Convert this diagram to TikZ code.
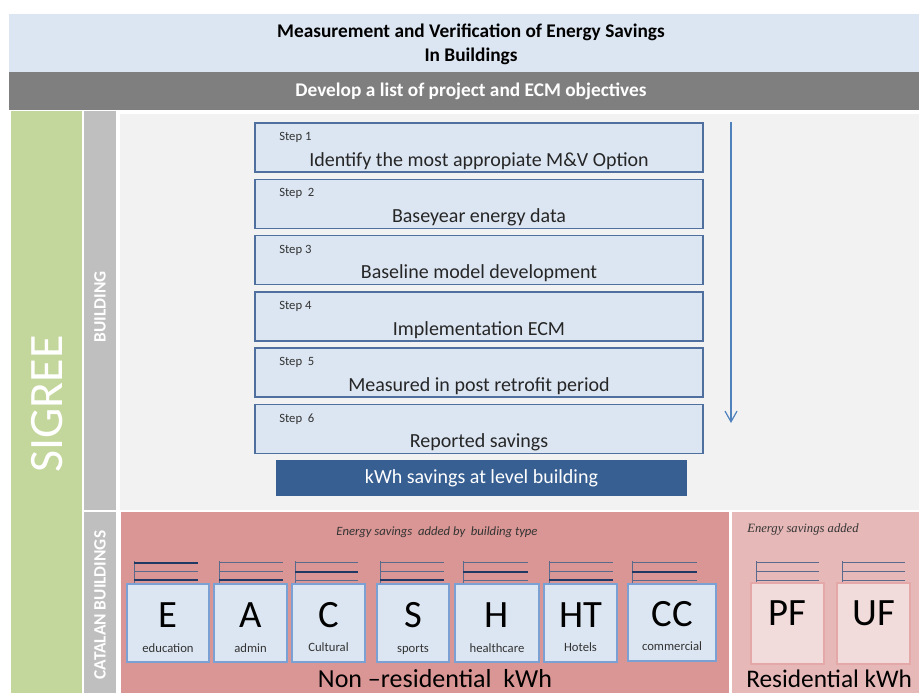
\documentclass[tikz,border=0pt]{standalone}
\usepackage{fontspec}
\setmainfont{Carlito}
\newfontfamily\serifit{Liberation Serif}
\usetikzlibrary{arrows.meta}
\definecolor{titlebg}{HTML}{DCE6F2}
\definecolor{bandgray}{HTML}{7F7F7F}
\definecolor{sigreegreen}{HTML}{C3D69B}
\definecolor{colgray}{HTML}{BFBFBF}
\definecolor{panelgray}{HTML}{F2F2F2}
\definecolor{stepborder}{HTML}{4F6F9F}
\definecolor{kwhblue}{HTML}{375F92}
\definecolor{arrowblue}{HTML}{4F81BD}
\definecolor{nonres}{HTML}{D99694}
\definecolor{resbg}{HTML}{E6B9B8}
\definecolor{typeborder}{HTML}{7BA0D4}
\definecolor{resbox}{HTML}{F2DCDB}
\definecolor{resboxborder}{HTML}{E3A8A7}
\definecolor{stripedark}{HTML}{1F3864}
\definecolor{stripelight}{HTML}{5A6A8C}
\newcommand\mystripes[5]{%
  \draw[stripelight,line width=0.6pt] (#1,561) -- (#1,584);
  \draw[#3] (#1,562.5) -- (#2,562.5);
  \draw[#4] (#1,571.5) -- (#2,571.5);
  \draw[#5] (#1,580) -- (#2,580);
}
\begin{document}
\begin{tikzpicture}[x=0.75pt,y=-0.75pt,
  area/.style={draw=none,inner sep=0pt,outer sep=0pt},
  stepbox/.style={draw=stepborder,line width=1.1pt,fill=titlebg,inner sep=0pt,
    minimum width=336pt,minimum height=36.75pt},
  steplbl/.style={anchor=base west,font=\fontsize{9.5}{11}\selectfont,text=black!80,inner sep=0pt},
  steptxt/.style={anchor=base,font=\fontsize{15}{18}\selectfont,text=black!85,inner sep=0pt},
  typebox/.style={draw=typeborder,line width=1.1pt,fill=titlebg,inner sep=0pt,minimum height=58.5pt},
  resbx/.style={draw=resboxborder,line width=1.1pt,fill=resbox,inner sep=0pt,minimum height=60.75pt},
  bigletter/.style={font=\fontsize{29}{32}\selectfont,inner sep=0pt},
  sublbl/.style={anchor=base,font=\fontsize{9.5}{11}\selectfont,text=black!80,inner sep=0pt},
  thk/.style={stripedark,line width=1.5pt},
  thn/.style={stripelight,line width=0.75pt},
  flowarrow/.style={arrowblue,line width=0.9pt,-{Straight Barb[length=8pt,width=9pt,line width=0.9pt]}}
]
\useasboundingbox[fill=white] (0,0) rectangle (919,693);

% header bands
\node[area,fill=titlebg,minimum width=682.5pt,minimum height=43.5pt] (title) at (464,43) {};
\node[area,fill=bandgray,minimum width=682.5pt,minimum height=28.5pt] (band) at (464,91) {};
\node[align=center,font=\bfseries\fontsize{14.5}{18}\selectfont,inner sep=0pt] (titletxt) at (471,44)
  {Measurement and Verification of Energy Savings\\In Buildings};
\node[font=\bfseries\fontsize{14.5}{18}\selectfont,text=white,inner sep=0pt] (bandtxt) at (471,91)
  {Develop a list of project and ECM objectives};

% left columns
\node[area,fill=sigreegreen,minimum width=53.25pt,minimum height=436.5pt] (green) at (46.5,402) {};
\node[rotate=90,text=white,font=\fontsize{36}{40}\selectfont,inner sep=0pt] (sigree) at (47,404) {SIGREE};
\node[area,fill=colgray,minimum width=24pt,minimum height=299.25pt] (colb) at (100,310.5) {};
\node[rotate=90,text=white,font=\bfseries\fontsize{13}{15}\selectfont,inner sep=0pt] (buildtxt) at (100,307) {BUILDING};
\node[area,fill=colgray,minimum width=24pt,minimum height=135.75pt] (colc) at (100,602.5) {};
\node[rotate=90,text=white,font=\bfseries\fontsize{13}{15}\selectfont,inner sep=0pt] (cattxt) at (100,605) {CATALAN BUILDINGS};

% building panel
\node[area,fill=panelgray,minimum width=599.25pt,minimum height=297pt] (panel) at (519.5,312) {};

\node[stepbox] (s1) at (479,147.5) {};
\node[stepbox] (s2) at (479,203.8) {};
\node[stepbox] (s3) at (479,260.1) {};
\node[stepbox] (s4) at (479,316.4) {};
\node[stepbox] (s5) at (479,372.7) {};
\node[stepbox] (s6) at (479,429) {};

\node[steplbl] (l1) at (279,140.5) {Step 1};
\node[steplbl] (l2) at (279,196.8) {Step\ \ 2};
\node[steplbl] (l3) at (279,253.1) {Step 3};
\node[steplbl] (l4) at (279,309.4) {Step 4};
\node[steplbl] (l5) at (279,365.7) {Step\ \ 5};
\node[steplbl] (l6) at (279,422) {Step\ \ 6};

\node[steptxt] (t1) at (479,166) {Identify the most appropiate M\&V Option};
\node[steptxt] (t2) at (479,222.5) {Baseyear energy data};
\node[steptxt] (t3) at (479,278.8) {Baseline model development};
\node[steptxt] (t4) at (479,335.1) {Implementation ECM};
\node[steptxt] (t5) at (479,391.4) {Measured in post retrofit period};
\node[steptxt] (t6) at (479,447.7) {Reported savings};

\node[area,fill=kwhblue,minimum width=308.25pt,minimum height=27pt,text=white,
  font=\fontsize{15}{18}\selectfont] (kwh) at (481.5,478) {kWh savings at level building};

\coordinate (atop) at (731,122);
\coordinate (abot) at (731,423);
\draw[flowarrow] (atop) -- (abot);

% non-residential panel
\node[area,fill=nonres,minimum width=456pt,minimum height=135.75pt] (nonres) at (425,602.5) {};
\node[font=\itshape\fontsize{9.5}{11}\selectfont,text=black!80,inner sep=0pt] (nonrestxt) at (437,532)
  {Energy savings~ added by~ building type};

\mystripes{134}{198}{thk}{thn}{thk}
\mystripes{219}{283}{thn}{thn}{thk}
\mystripes{295}{358}{thn}{thk}{thn}
\mystripes{380}{444}{thn}{thn}{thk}
\mystripes{463}{528}{thn}{thk}{thn}
\mystripes{549}{613}{thn}{thn}{thk}
\mystripes{632}{697}{thn}{thk}{thn}

\node[typebox,minimum width=61.5pt] (bE) at (168,623) {};
\node[typebox,minimum width=54.75pt] (bA) at (250.5,623) {};
\node[typebox,minimum width=54.75pt] (bC) at (328.5,623) {};
\node[typebox,minimum width=54pt] (bS) at (413,623) {};
\node[typebox,minimum width=63pt] (bH) at (497,623) {};
\node[typebox,minimum width=54.75pt] (bHT) at (580.5,623) {};
\node[typebox,minimum width=66pt,minimum height=57.75pt] (bCC) at (672,622.5) {};

\node[bigletter] (xE) at (168,615) {E};
\node[bigletter] (xA) at (250.5,615) {A};
\node[bigletter] (xC) at (328.5,615) {C};
\node[bigletter] (xS) at (413,615) {S};
\node[bigletter] (xH) at (497,615) {H};
\node[bigletter] (xHT) at (580.5,615) {HT};
\node[bigletter] (xCC) at (672,614) {CC};

\node[sublbl] (yE) at (168,652) {education};
\node[sublbl] (yA) at (250.5,652) {admin};
\node[sublbl] (yC) at (328.5,651) {Cultural};
\node[sublbl] (yS) at (413,652) {sports};
\node[sublbl] (yH) at (497,652) {healthcare};
\node[sublbl] (yHT) at (580.5,651) {Hotels};
\node[sublbl] (yCC) at (672,650) {commercial};

\node[anchor=base,font=\fontsize{19.5}{24}\selectfont,inner sep=0pt] (nonreskwh) at (435,687)
  {Non \textendash residential~~kWh};

% residential panel
\node[area,fill=resbg,minimum width=140.25pt,minimum height=135.75pt] (res) at (825.5,602.5) {};
\node[anchor=west,font=\serifit\itshape\fontsize{9.5}{11}\selectfont,text=black!80,inner sep=0pt] (restxt) at (747,529)
  {Energy savings added};

\mystripes{756}{819}{thn}{thn}{thn}
\mystripes{842}{905}{thn}{thn}{thn}

\node[resbx,minimum width=54.75pt] (bPF) at (787.5,623.5) {};
\node[resbx,minimum width=54.75pt] (bUF) at (873.5,623.5) {};
\node[bigletter] (xPF) at (787.5,613) {PF};
\node[bigletter] (xUF) at (873.5,613) {UF};

\node[anchor=base west,font=\fontsize{19}{24}\selectfont,inner sep=0pt] (reskwh) at (746,687)
  {Residential kWh};
\end{tikzpicture}
\end{document}
